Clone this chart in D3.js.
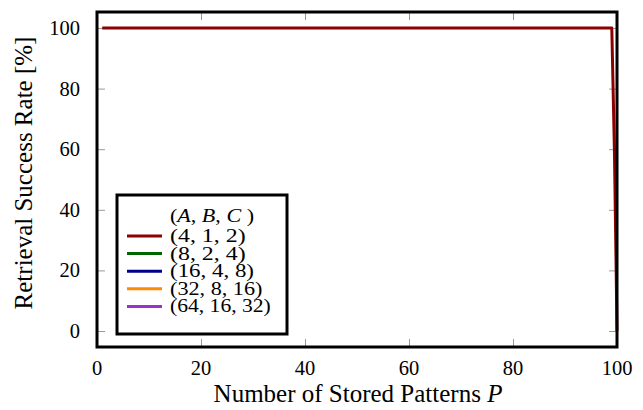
<!DOCTYPE html>
<html>
<head>
<meta charset="utf-8">
<script src="https://cdn.jsdelivr.net/npm/d3@7"></script>
<style>
  body { margin: 0; background: #fff; }
  svg text { font-family: "Liberation Serif", "DejaVu Serif", serif; }
</style>
</head>
<body>
<svg width="643" height="410"></svg>
<script>
// number of stored patterns P and retrieval success rate (%)
var patterns = [1, 10, 20, 30, 40, 50, 60, 70, 80, 90, 99, 99.5, 99.8, 100];
var rate412 = [100, 100, 100, 100, 100, 100, 100, 100, 100, 100, 100, 60, 25, 0];

var seriesNames = ["(4, 1, 2)", "(8, 2, 4)", "(16, 4, 8)", "(32, 8, 16)", "(64, 16, 32)"];
var seriesColors = ["#8b0000", "#006400", "#00008b", "#ff8c00", "#9932cc"];
var seriesValues = [rate412, [], [], [], []];

var xTicks = [0, 20, 40, 60, 80, 100];
var yTicks = [0, 20, 40, 60, 80, 100];

var svg = d3.select("svg");
var plotL = 97, plotR = 617, plotT = 12, plotB = 347;

var x = d3.scaleLinear().domain([0, 100]).range([plotL, plotR]);
var y = d3.scaleLinear().domain([0, 100]).range([331, 28]);

// tick marks inside the frame (gray), mirrored on all sides
var tickLen = 8;
var g = svg.append("g");
g.append("g").attr("transform", "translate(0," + plotB + ")")
  .call(d3.axisTop(x).tickValues(xTicks).tickSize(tickLen).tickFormat(""));
g.append("g").attr("transform", "translate(0," + plotT + ")")
  .call(d3.axisBottom(x).tickValues(xTicks).tickSize(tickLen).tickFormat(""));
g.append("g").attr("transform", "translate(" + plotL + ",0)")
  .call(d3.axisRight(y).tickValues(yTicks).tickSize(tickLen).tickFormat(""));
g.append("g").attr("transform", "translate(" + plotR + ",0)")
  .call(d3.axisLeft(y).tickValues(yTicks).tickSize(tickLen).tickFormat(""));
g.selectAll(".domain").remove();
g.selectAll(".tick line").attr("stroke", "#999").attr("stroke-width", 1);

// tick labels
svg.selectAll(".xl").data(xTicks).enter().append("text")
  .attr("x", function(d) { return x(d); })
  .attr("y", 375)
  .attr("text-anchor", "middle")
  .attr("font-size", 20.5)
  .text(function(d) { return d; });

svg.selectAll(".yl").data(yTicks).enter().append("text")
  .attr("x", 80)
  .attr("y", function(d) { return y(d) + 7; })
  .attr("text-anchor", "end")
  .attr("font-size", 20.5)
  .text(function(d) { return d; });

// axis labels
var xl = svg.append("text")
  .attr("x", 358).attr("y", 402)
  .attr("text-anchor", "middle")
  .attr("font-size", 25);
xl.append("tspan").text("Number of Stored Patterns ");
xl.append("tspan").attr("font-style", "italic").text("P");

svg.append("text")
  .attr("transform", "translate(32,173) rotate(-90)")
  .attr("text-anchor", "middle")
  .attr("font-size", 25)
  .text("Retrieval Success Rate [%]");

// lines, first series drawn on top
var line = d3.line()
  .x(function(d) { return x(d[0]); })
  .y(function(d) { return y(d[1]); });

for (var i = seriesNames.length - 1; i >= 0; i--) {
  var pts = seriesValues[i].map(function(v, j) { return [patterns[j], v]; });
  if (!pts.length) continue;
  svg.append("path")
    .attr("d", line(pts))
    .attr("fill", "none")
    .attr("stroke", seriesColors[i])
    .attr("stroke-width", 3)
    .attr("stroke-linejoin", "round");
}

// frame
svg.append("rect")
  .attr("x", plotL).attr("y", plotT)
  .attr("width", plotR - plotL).attr("height", plotB - plotT)
  .attr("fill", "none").attr("stroke", "#000").attr("stroke-width", 3);

// legend
var lg = svg.append("g");
lg.append("rect")
  .attr("x", 117).attr("y", 195).attr("width", 170).attr("height", 139)
  .attr("fill", "#fff").attr("stroke", "#000").attr("stroke-width", 3);

var head = lg.append("text").attr("x", 170).attr("y", 222).attr("font-size", 18)
  .attr("textLength", 84).attr("lengthAdjust", "spacingAndGlyphs");
head.append("tspan").text("(");
head.append("tspan").attr("font-style", "italic").text("A");
head.append("tspan").text(", ");
head.append("tspan").attr("font-style", "italic").text("B");
head.append("tspan").text(", ");
head.append("tspan").attr("font-style", "italic").text("C");
head.append("tspan").text(" )");

var rows = lg.selectAll(".row").data(seriesNames).enter().append("g")
  .attr("transform", function(d, i) { return "translate(0," + (236 + i * 17.6) + ")"; });
rows.append("line")
  .attr("x1", 127).attr("x2", 162)
  .attr("stroke", function(d, i) { return seriesColors[i]; })
  .attr("stroke-width", 3);
rows.append("text")
  .attr("x", 170).attr("y", 6)
  .attr("font-size", 18)
  .attr("textLength", function(d) { return d.length * 8.4; })
  .attr("lengthAdjust", "spacingAndGlyphs")
  .text(function(d) { return d; });
</script>
</body>
</html>
